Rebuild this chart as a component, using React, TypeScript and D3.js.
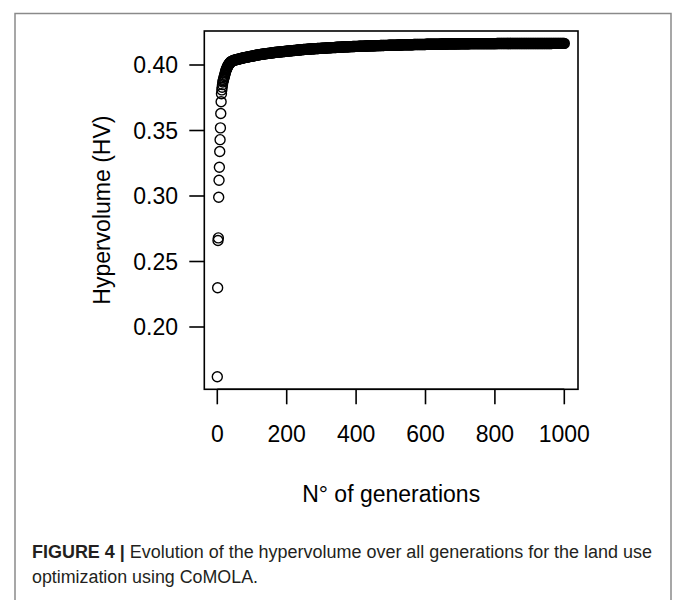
import React from 'react';
import * as d3 from 'd3';

// hypervolume, one value per generation for gens 0..40
const earlyHV = [
  0.162, 0.230, 0.266, 0.268, 0.299, 0.312, 0.322, 0.334, 0.343, 0.352,
  0.363, 0.372, 0.378, 0.381, 0.383, 0.385, 0.387, 0.388, 0.389, 0.390,
  0.391, 0.392, 0.393, 0.394, 0.395, 0.396, 0.3966, 0.3972, 0.3978, 0.3984,
  0.399, 0.3995, 0.400, 0.4004, 0.4008, 0.4012, 0.4015, 0.4018, 0.4021, 0.4024,
  0.4027,
];

// after gen 40 the band is read every 2 generations (42, 44, ... 1000), 25 per row
const LATE_START = 42;
const LATE_STEP = 2;
const lateHV = [
  0.4029, 0.4031, 0.4034, 0.4036, 0.4037, 0.4039, 0.4040, 0.4042, 0.4043, 0.4044, 0.4046, 0.4047, 0.4048, 0.4050, 0.4051, 0.4052, 0.4053, 0.4055, 0.4056, 0.4057, 0.4058, 0.4059, 0.4060, 0.4062, 0.4063,
  0.4064, 0.4065, 0.4066, 0.4067, 0.4068, 0.4069, 0.4070, 0.4071, 0.4072, 0.4073, 0.4074, 0.4075, 0.4076, 0.4077, 0.4078, 0.4079, 0.4080, 0.4081, 0.4082, 0.4082, 0.4083, 0.4084, 0.4085, 0.4086, 0.4087,
  0.4087, 0.4088, 0.4089, 0.4089, 0.4090, 0.4091, 0.4091, 0.4092, 0.4093, 0.4093, 0.4094, 0.4095, 0.4095, 0.4096, 0.4097, 0.4097, 0.4098, 0.4098, 0.4099, 0.4100, 0.4100, 0.4101, 0.4101, 0.4102, 0.4102,
  0.4103, 0.4103, 0.4104, 0.4105, 0.4105, 0.4106, 0.4107, 0.4107, 0.4108, 0.4108, 0.4109, 0.4109, 0.4110, 0.4110, 0.4111, 0.4111, 0.4112, 0.4112, 0.4113, 0.4113, 0.4114, 0.4114, 0.4115, 0.4115, 0.4116,
  0.4116, 0.4117, 0.4117, 0.4118, 0.4118, 0.4119, 0.4119, 0.4119, 0.4120, 0.4120, 0.4121, 0.4121, 0.4122, 0.4122, 0.4122, 0.4123, 0.4123, 0.4124, 0.4124, 0.4124, 0.4125, 0.4125, 0.4125, 0.4126, 0.4126,
  0.4126, 0.4127, 0.4127, 0.4127, 0.4128, 0.4128, 0.4128, 0.4129, 0.4129, 0.4129, 0.4130, 0.4130, 0.4130, 0.4131, 0.4131, 0.4131, 0.4132, 0.4132, 0.4132, 0.4133, 0.4133, 0.4133, 0.4133, 0.4134, 0.4134,
  0.4134, 0.4135, 0.4135, 0.4135, 0.4135, 0.4136, 0.4136, 0.4136, 0.4137, 0.4137, 0.4137, 0.4137, 0.4138, 0.4138, 0.4138, 0.4138, 0.4139, 0.4139, 0.4139, 0.4139, 0.4140, 0.4140, 0.4140, 0.4140, 0.4141,
  0.4141, 0.4141, 0.4141, 0.4142, 0.4142, 0.4142, 0.4142, 0.4142, 0.4143, 0.4143, 0.4143, 0.4143, 0.4144, 0.4144, 0.4144, 0.4144, 0.4144, 0.4145, 0.4145, 0.4145, 0.4145, 0.4145, 0.4146, 0.4146, 0.4146,
  0.4146, 0.4146, 0.4146, 0.4147, 0.4147, 0.4147, 0.4147, 0.4147, 0.4148, 0.4148, 0.4148, 0.4148, 0.4148, 0.4148, 0.4149, 0.4149, 0.4149, 0.4149, 0.4149, 0.4149, 0.4150, 0.4150, 0.4150, 0.4150, 0.4150,
  0.4150, 0.4151, 0.4151, 0.4151, 0.4151, 0.4151, 0.4151, 0.4152, 0.4152, 0.4152, 0.4152, 0.4152, 0.4152, 0.4152, 0.4153, 0.4153, 0.4153, 0.4153, 0.4153, 0.4153, 0.4153, 0.4154, 0.4154, 0.4154, 0.4154,
  0.4154, 0.4154, 0.4154, 0.4154, 0.4155, 0.4155, 0.4155, 0.4155, 0.4155, 0.4155, 0.4155, 0.4155, 0.4156, 0.4156, 0.4156, 0.4156, 0.4156, 0.4156, 0.4156, 0.4156, 0.4156, 0.4157, 0.4157, 0.4157, 0.4157,
  0.4157, 0.4157, 0.4157, 0.4157, 0.4157, 0.4158, 0.4158, 0.4158, 0.4158, 0.4158, 0.4158, 0.4158, 0.4158, 0.4158, 0.4158, 0.4159, 0.4159, 0.4159, 0.4159, 0.4159, 0.4159, 0.4159, 0.4159, 0.4159, 0.4159,
  0.4159, 0.4160, 0.4160, 0.4160, 0.4160, 0.4160, 0.4160, 0.4160, 0.4160, 0.4160, 0.4160, 0.4160, 0.4161, 0.4161, 0.4161, 0.4161, 0.4161, 0.4161, 0.4161, 0.4161, 0.4161, 0.4161, 0.4161, 0.4161, 0.4161,
  0.4161, 0.4161, 0.4162, 0.4162, 0.4162, 0.4162, 0.4162, 0.4162, 0.4162, 0.4162, 0.4162, 0.4162, 0.4162, 0.4162, 0.4162, 0.4162, 0.4162, 0.4162, 0.4163, 0.4163, 0.4163, 0.4163, 0.4163, 0.4163, 0.4163,
  0.4163, 0.4163, 0.4163, 0.4163, 0.4163, 0.4163, 0.4163, 0.4163, 0.4163, 0.4163, 0.4163, 0.4163, 0.4163, 0.4163, 0.4163, 0.4163, 0.4163, 0.4163, 0.4163, 0.4163, 0.4163, 0.4163, 0.4163, 0.4163, 0.4163,
  0.4163, 0.4163, 0.4163, 0.4163, 0.4163, 0.4163, 0.4163, 0.4164, 0.4164, 0.4164, 0.4164, 0.4164, 0.4164, 0.4164, 0.4164, 0.4164, 0.4164, 0.4164, 0.4164, 0.4164, 0.4164, 0.4164, 0.4164, 0.4164, 0.4164,
  0.4164, 0.4164, 0.4164, 0.4164, 0.4164, 0.4164, 0.4164, 0.4164, 0.4164, 0.4164, 0.4164, 0.4164, 0.4164, 0.4164, 0.4164, 0.4164, 0.4164, 0.4164, 0.4164, 0.4164, 0.4164, 0.4164, 0.4164, 0.4164, 0.4164,
  0.4164, 0.4164, 0.4164, 0.4164, 0.4164, 0.4164, 0.4164, 0.4164, 0.4164, 0.4164, 0.4164, 0.4164, 0.4164, 0.4164, 0.4164, 0.4164, 0.4164, 0.4164, 0.4164, 0.4164, 0.4164, 0.4164, 0.4164, 0.4164, 0.4164,
  0.4164, 0.4164, 0.4164, 0.4164, 0.4164, 0.4164, 0.4164, 0.4164, 0.4164, 0.4164, 0.4164, 0.4164, 0.4165, 0.4165, 0.4165, 0.4165, 0.4165, 0.4165, 0.4165, 0.4165, 0.4165, 0.4165, 0.4165, 0.4165, 0.4165,
  0.4165, 0.4165, 0.4165, 0.4165, 0.4165,
];

const xTicks = [0, 200, 400, 600, 800, 1000];
const yTicks = [0.20, 0.25, 0.30, 0.35, 0.40];

const captionBold = 'FIGURE 4 | ';
const captionLine1 = 'Evolution of the hypervolume over all generations for the land use';
const captionLine2 = 'optimization using CoMOLA.';

const W = 673;
const H = 600;
const box = { left: 204.3, right: 578, top: 31, bottom: 389.3 };

export default function App() {
  const x = d3.scaleLinear().domain([0, 1000]).range([217.3, 564.3]);
  const y = d3.scaleLinear().domain([0.2, 0.4]).range([327, 65]);

  const points: [number, number][] = [
    ...earlyHV.map((v, i) => [i, v] as [number, number]),
    ...lateHV.map((v, i) => [LATE_START + i * LATE_STEP, v] as [number, number]),
  ];

  const font = '"Liberation Sans", Arial, sans-serif';
  const tickLen = 15;

  return (
    <svg width={W} height={H} style={{ position: 'absolute', left: 0, top: 0, background: '#fff' }}>
      <rect x={15} y={13.5} width={656} height={620} fill="none" stroke="#8a8a8a" strokeWidth={1.5} />

      {/* points */}
      <g fill="none" stroke="#000" strokeWidth={1.4}>
        {points.map(([g, v], i) => (
          <circle key={i} cx={x(g)} cy={y(v)} r={5} />
        ))}
      </g>

      <rect x={box.left} y={box.top} width={box.right - box.left} height={box.bottom - box.top}
        fill="none" stroke="#000" strokeWidth={1.6} />

      {/* x axis */}
      <g fontFamily={font} fontSize={23} fill="#000">
        <line x1={x(0)} x2={x(1000)} y1={box.bottom} y2={box.bottom} stroke="#000" strokeWidth={1.6} />
        {xTicks.map((t) => (
          <g key={t}>
            <line x1={x(t)} x2={x(t)} y1={box.bottom} y2={box.bottom + tickLen} stroke="#000" strokeWidth={1.6} />
            <text x={x(t)} y={442} textAnchor="middle">{t}</text>
          </g>
        ))}
        <text x={(box.left + box.right) / 2} y={502} textAnchor="middle">N° of generations</text>
      </g>

      {/* y axis */}
      <g fontFamily={font} fontSize={23} fill="#000">
        {yTicks.map((t) => (
          <g key={t}>
            <line x1={box.left - tickLen} x2={box.left} y1={y(t)} y2={y(t)} stroke="#000" strokeWidth={1.6} />
            <text x={178} y={y(t) + 8} textAnchor="end">{t.toFixed(2)}</text>
          </g>
        ))}
        <text transform={`translate(110,${(box.top + box.bottom) / 2}) rotate(-90)`} textAnchor="middle">
          Hypervolume (HV)
        </text>
      </g>

      {/* caption: condensed look by squeezing Liberation Sans */}
      <g fontFamily={font} fontSize={18} fill="#231f20">
        <text x={32} y={558} textLength={620} lengthAdjust="spacingAndGlyphs">
          <tspan fontWeight="bold">{captionBold}</tspan>
          <tspan>{captionLine1}</tspan>
        </text>
        <text x={32} y={583} textLength={226} lengthAdjust="spacingAndGlyphs">{captionLine2}</text>
      </g>
    </svg>
  );
}
